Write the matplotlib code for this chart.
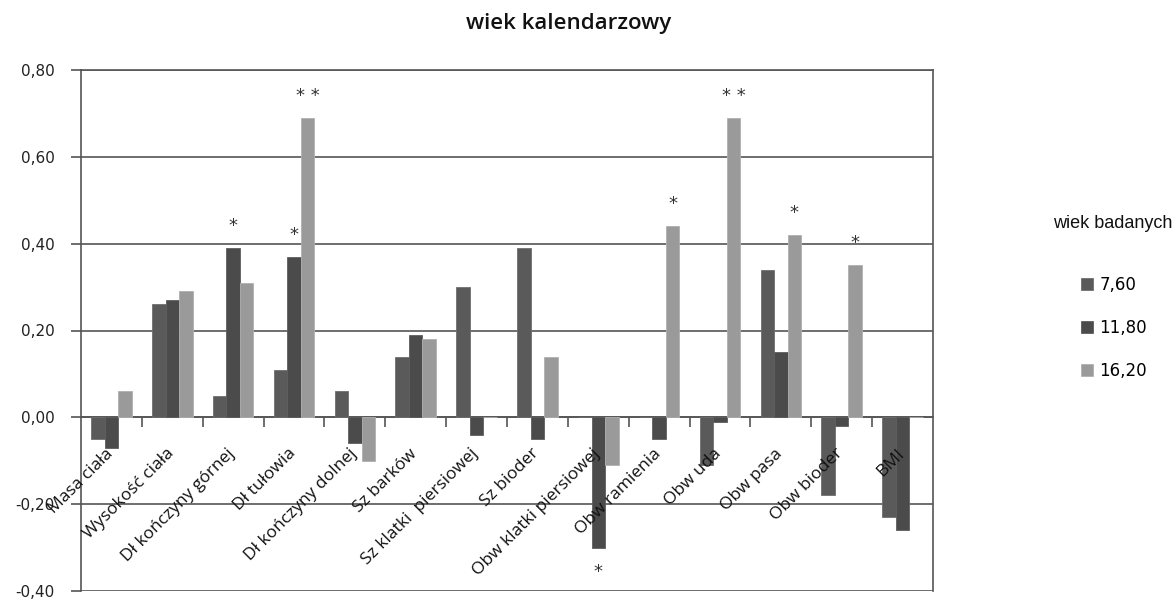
import numpy as np
import matplotlib
matplotlib.use("Agg")
import matplotlib.pyplot as plt

# data
categories = ['Masa ciała', 'Wysokość ciała', 'Dł kończyny górnej', 'Dł tułowia',
              'Dł kończyny dolnej', 'Sz barków', 'Sz klatki  piersiowej', 'Sz bioder',
              'Obw klatki piersiowej', 'Obw ramienia', 'Obw uda', 'Obw pasa',
              'Obw bioder', 'BMI']
series_names = ['7,60', '11,80', '16,20']
v_760 = [-0.05, 0.26, 0.05, 0.11, 0.06, 0.14, 0.30, 0.39, 0.00, 0.00, -0.11, 0.34, -0.18, -0.23]
v_1180 = [-0.07, 0.27, 0.39, 0.37, -0.06, 0.19, -0.04, -0.05, -0.30, -0.05, -0.01, 0.15, -0.02, -0.26]
v_1620 = [0.06, 0.29, 0.31, 0.69, -0.10, 0.18, 0.00, 0.14, -0.11, 0.44, 0.69, 0.42, 0.35, 0.00]
# significance marks: (category index, series index, text)
stars = [(2, 1, '*'), (3, 1, '*'), (3, 2, '* *'), (8, 1, '*'),
         (9, 2, '*'), (10, 2, '* *'), (11, 2, '*'), (12, 2, '*')]
yticks = [-0.4, -0.2, 0.0, 0.2, 0.4, 0.6, 0.8]

colors = ['#5a5a5a', '#4b4b4b', '#9a9a9a']
edge = ['#6e6e6e', '#5e5e5e', '#b0b0b0']

fig = plt.figure(figsize=(11.76, 6.01), dpi=100)
ax = fig.add_axes([81 / 1176, 1 - 591 / 601, 852 / 1176, 521 / 601])

x = np.arange(len(categories))
w = 1 / 4.5
all_vals = [v_760, v_1180, v_1620]
for k, vals in enumerate(all_vals):
    ax.bar(x + (k - 1) * w, vals, width=w, color=colors[k], edgecolor=edge[k],
           linewidth=0.6, label=series_names[k], zorder=3)

for ci, si, txt in stars:
    v = all_vals[si][ci]
    xs = x[ci] + (si - 1) * w
    if v >= 0:
        ax.text(xs, v + 0.03, txt, ha='center', va='bottom', fontsize=13, color='#333333')
    else:
        ax.text(xs, v - 0.035, txt, ha='center', va='top', fontsize=13, color='#333333')

ax.set_xlim(-0.5, len(categories) - 0.5)
ax.set_ylim(-0.4, 0.8)
ax.set_yticks(yticks)
ax.set_yticklabels([f'{t:.2f}'.replace('.', ',') for t in yticks], fontsize=11, color='#222222')
ax.grid(axis='y', color='#555555', linewidth=1.2, zorder=1)
ax.tick_params(axis='y', length=7, width=1.2, color='#555555', pad=12)

# category axis crossing at zero
ax.spines['bottom'].set_position(('data', 0))
ax.spines['bottom'].set_color('#555555')
ax.spines['bottom'].set_linewidth(1.2)
ax.set_xticks(x[:-1] + 0.5)
ax.set_xticklabels([])
ax.tick_params(axis='x', length=7, width=1.2, color='#555555', direction='out')
for s in ['left', 'right', 'top']:
    ax.spines[s].set_color('#555555')
    ax.spines[s].set_linewidth(1.2)
ax.set_axisbelow(True)

for i, name in enumerate(categories):
    ax.text(i + 0.08, -0.065, name, rotation=45, ha='right', va='top',
            fontsize=12.5, family='Open Sans', color='#111111')

fig.text(569 / 1176, 1 - 23 / 601, 'wiek kalendarzowy', ha='center', va='center',
         fontsize=16, family='Open Sans', fontweight='semibold', color='#111111')

fig.text(1113 / 1176, 1 - 223 / 601, 'wiek badanych', ha='center', va='center',
         fontsize=13, family='Liberation Sans', color='#111111')
leg = fig.legend(loc='upper left', bbox_to_anchor=(1081 / 1176, 1 - 276 / 601),
                 frameon=False, fontsize=12, handlelength=0.7, handleheight=0.7,
                 handletextpad=0.4, labelspacing=1.5, borderpad=0, borderaxespad=0)

fig.savefig('out.png', dpi=100)
